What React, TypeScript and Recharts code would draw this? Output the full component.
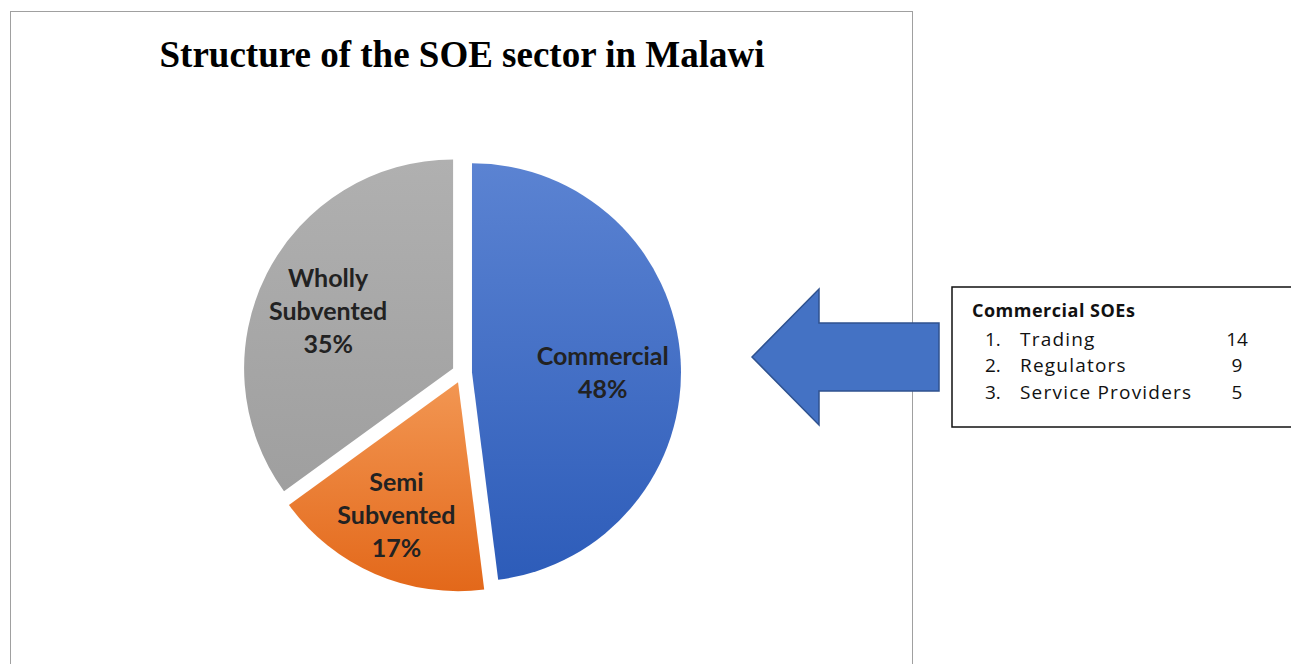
import React from 'react';
import { PieChart, Pie, Cell } from 'recharts';

// values
const sliceNames = ['Commercial', 'Semi Subvented', 'Wholly Subvented'];
const sliceShares = [48, 17, 35];
const soeTypes = ['Trading', 'Regulators', 'Service Providers'];
const soeCounts = [14, 9, 5];

const gradients = [
  ['#5b83d2', '#2d5cb9'],
  ['#f29652', '#e3681a'],
  ['#b0b0b0', '#9f9f9f'],
];
// label placement: distance from the slice centre along its mid angle, plus a small nudge
const labelRadius = [130, 145, 138];
const labelNudge = [
  [1, 8],
  [-4, 0],
  [-2, 5],
];

const CX = 462;
const CY = 373;
const R = 209;
const EXPLODE = 10;
const RADIAN = Math.PI / 180;

const pieData = sliceNames.map((name, i) => ({ name, value: sliceShares[i] }));

// each slice is pulled out along its mid angle (clockwise from 12 o'clock)
const total = sliceShares.reduce((a, b) => a + b, 0);
let cum = 0;
const offsets = sliceShares.map((v) => {
  const mid = ((cum + v / 2) / total) * 2 * Math.PI;
  cum += v;
  return { dx: EXPLODE * Math.sin(mid), dy: -EXPLODE * Math.cos(mid) };
});

const makeLabel = (k: number) => (props: any) => {
  const { cx, cy, midAngle, index, name, value } = props;
  if (index !== k) return null;
  const r = labelRadius[k];
  const x = cx + r * Math.cos(-midAngle * RADIAN) + labelNudge[k][0];
  const y = cy + r * Math.sin(-midAngle * RADIAN) + labelNudge[k][1];
  const lines = [...String(name).split(' '), `${value}%`];
  const lh = 33;
  return (
    <text
      x={x}
      y={y}
      textAnchor="middle"
      fontFamily="Lato, sans-serif"
      fontWeight={700}
      fontSize={25}
      fill="#222"
    >
      {lines.map((l, i) => (
        <tspan key={i} x={x} dy={i === 0 ? -((lines.length - 1) / 2) * lh + 9 : lh}>
          {l}
        </tspan>
      ))}
    </text>
  );
};

export default function App() {
  return (
    <div style={{ position: 'absolute', left: 0, top: 0, width: 1291, height: 664, background: '#fff', overflow: 'hidden' }}>
      <svg width={0} height={0} style={{ position: 'absolute' }}>
        <defs>
          {gradients.map(([a, b], i) => (
            <linearGradient key={i} id={`slice${i}`} x1="0" y1="0" x2="0" y2="1">
              <stop offset="0%" stopColor={a} />
              <stop offset="100%" stopColor={b} />
            </linearGradient>
          ))}
        </defs>
      </svg>
      <div
        style={{
          position: 'absolute',
          left: 10,
          top: 11,
          width: 903,
          height: 700,
          boxSizing: 'border-box',
          border: '1px solid #a0a0a0',
        }}
      />
      <div style={{ position: 'absolute', left: 0, top: 0 }}>
        <PieChart width={1291} height={664} margin={{ top: 0, right: 0, bottom: 0, left: 0 }}>
          {pieData.map((_, k) => (
            <Pie
              key={k}
              data={pieData}
              dataKey="value"
              nameKey="name"
              cx={CX + offsets[k].dx}
              cy={CY + offsets[k].dy}
              outerRadius={R}
              startAngle={90}
              endAngle={-270}
              stroke="none"
              label={makeLabel(k)}
              labelLine={false}
              isAnimationActive={false}
            >
              {pieData.map((_, i) => (
                <Cell key={i} fill={i === k ? `url(#slice${i})` : 'none'} stroke="none" />
              ))}
            </Pie>
          ))}
        </PieChart>
      </div>
      <svg width={1291} height={664} style={{ position: 'absolute', left: 0, top: 0, pointerEvents: 'none' }}>
        <text
          x={462}
          y={67}
          textAnchor="middle"
          fontFamily="'Liberation Serif', 'Times New Roman', serif"
          fontWeight={700}
          fontSize={37}
          fill="#000"
        >
          Structure of the SOE sector in Malawi
        </text>
        <polygon
          points="752,357 819,289 819,323 939,323 939,391 819,391 819,425"
          fill="#4472c4"
          stroke="#2f528f"
          strokeWidth={1.5}
        />
        <rect x={952} y={287} width={360} height={140} fill="#fff" stroke="#111" strokeWidth={1.5} />
        <g fontFamily="'Open Sans', sans-serif" fill="#111">
          <text x={972} y={317} fontSize={18} fontWeight={700} letterSpacing={0.5}>
            Commercial SOEs
          </text>
          {soeTypes.map((t, i) => (
            <g key={t} fontSize={19}>
              <text x={985} y={345.5 + i * 26.5}>{`${i + 1}.`}</text>
              <text x={1020} y={345.5 + i * 26.5} letterSpacing={1.2}>
                {t}
              </text>
              <text x={1237} y={345.5 + i * 26.5} textAnchor="middle">
                {soeCounts[i]}
              </text>
            </g>
          ))}
        </g>
      </svg>
    </div>
  );
}
